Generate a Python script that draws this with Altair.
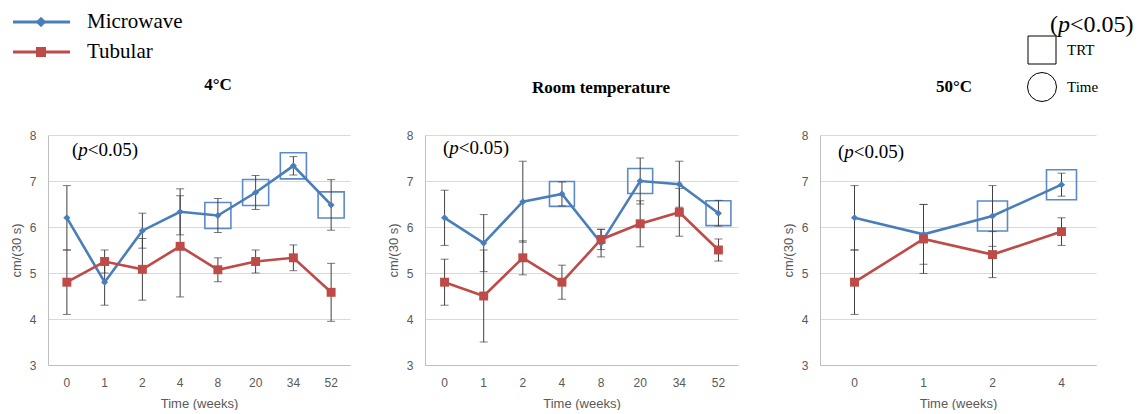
import altair as alt
import pandas as pd

# ---------------- data ----------------
weeks_long = ["0", "1", "2", "4", "8", "20", "34", "52"]
weeks_short = ["0", "1", "2", "4"]

# 4 °C
mw_4 = [6.20, 4.80, 5.92, 6.33, 6.25, 6.75, 7.33, 6.48]
mw_4_err = [0.70, 0.50, 0.38, 0.50, 0.37, 0.37, 0.20, 0.55]
tb_4 = [4.80, 5.25, 5.08, 5.58, 5.07, 5.25, 5.33, 4.58]
tb_4_err = [0.70, 0.25, 0.67, 1.10, 0.26, 0.25, 0.28, 0.63]
box_4 = ["8", "20", "34", "52"]

# Room temperature
mw_rt = [6.20, 5.65, 6.55, 6.72, 5.65, 7.00, 6.93, 6.30]
mw_rt_err = [0.60, 0.62, 0.88, 0.26, 0.30, 0.50, 0.50, 0.28]
tb_rt = [4.80, 4.50, 5.33, 4.80, 5.73, 6.07, 6.32, 5.50]
tb_rt_err = [0.50, 1.00, 0.37, 0.37, 0.22, 0.50, 0.52, 0.24]
box_rt = ["4", "20", "52"]

# 50 °C
mw_50 = [6.20, 5.84, 6.24, 6.92]
mw_50_err = [0.70, 0.65, 0.66, 0.25]
tb_50 = [4.80, 5.74, 5.40, 5.90]
tb_50_err = [0.70, 0.75, 0.50, 0.30]
box_50 = ["2", "4"]

series_names = ["Microwave", "Tubular"]
y_ticks = [3, 4, 5, 6, 7, 8]

# ---------------- style ----------------
BLUE = "#4A7EBB"
RED = "#BE4B48"
BOXBLUE = "#5B8BC6"
ERR = "#404040"
AXC = "#595959"
SERIF = "Liberation Serif"
SANS = "Liberation Sans"

one = pd.DataFrame({"k": [0]})


def make_df(weeks, mw, mw_err, tb, tb_err):
    rows = []
    for name, vals, errs in (("Microwave", mw, mw_err), ("Tubular", tb, tb_err)):
        for w, v, e in zip(weeks, vals, errs):
            rows.append({"week": w, "series": name, "value": v,
                         "lo": v - e, "hi": v + e})
    return pd.DataFrame(rows)


def ptext(x, y, size):
    """(p<0.05) with italic p, as three text pieces."""
    w_par = 0.333 * size
    w_p = 0.5 * size
    base = alt.Chart(one)
    a = base.mark_text(font=SERIF, fontSize=size, align="left", baseline="middle",
                       color="black").encode(x=alt.value(x), y=alt.value(y), text=alt.value("("))
    b = base.mark_text(font=SERIF, fontSize=size, fontStyle="italic", align="left",
                       baseline="middle", color="black").encode(
        x=alt.value(x + w_par), y=alt.value(y), text=alt.value("p"))
    c = base.mark_text(font=SERIF, fontSize=size, align="left", baseline="middle",
                       color="black").encode(
        x=alt.value(x + w_par + w_p), y=alt.value(y), text=alt.value("<0.05)"))
    return [a, b, c]


def panel(weeks, mw, mw_err, tb, tb_err, boxes, width, box_size, title,
          title_x, title_y, p_x, p_y, anchor_x, anchor_y, extra=()):
    df = make_df(weeks, mw, mw_err, tb, tb_err)
    bdf = df[(df.series == "Microwave") & (df.week.isin(boxes))]

    xenc = alt.X("week:O", sort=weeks, scale=alt.Scale(domain=weeks),
                 axis=alt.Axis(title="Time (weeks)", labelAngle=0))

    def yenc(field):
        return alt.Y(f"{field}:Q",
                     scale=alt.Scale(domain=[3, 8], nice=False, zero=False),
                     axis=alt.Axis(values=y_ticks, title="cm/(30 s)"))

    color = alt.Color("series:N", scale=alt.Scale(domain=series_names, range=[BLUE, RED]),
                      legend=None)
    base = alt.Chart(df)

    boxes_l = alt.Chart(bdf).mark_point(shape="square", filled=False, size=box_size,
                                        color=BOXBLUE, strokeWidth=1.6, opacity=1).encode(
        x=xenc, y=yenc("value"))
    lines = base.mark_line(strokeWidth=2.6).encode(x=xenc, y=yenc("value"), color=color,
                                                  detail="series:N")
    err = base.mark_rule(color=ERR, strokeWidth=1).encode(x=xenc, y=yenc("lo"), y2="hi:Q")
    cap_lo = base.mark_tick(color=ERR, thickness=1, size=8).encode(x=xenc, y=yenc("lo"))
    cap_hi = base.mark_tick(color=ERR, thickness=1, size=8).encode(x=xenc, y=yenc("hi"))
    pts = base.mark_point(filled=True, opacity=1).encode(
        x=xenc, y=yenc("value"), color=color,
        shape=alt.Shape("series:N", scale=alt.Scale(domain=series_names,
                                                    range=["diamond", "square"]), legend=None),
        size=alt.Size("series:N", scale=alt.Scale(domain=series_names, range=[50, 80]),
                      legend=None))

    ttl = alt.Chart(one).mark_text(font=SERIF, fontSize=17, fontWeight="bold",
                                   baseline="middle", align="center", color="black").encode(
        x=alt.value(title_x), y=alt.value(title_y), text=alt.value(title))
    anchor = alt.Chart(one).mark_rule(strokeOpacity=0, strokeWidth=0.1).encode(
        x=alt.value(anchor_x), x2=alt.value(anchor_x + 1), y=alt.value(anchor_y))

    layers = [anchor, boxes_l, lines, err, cap_lo, cap_hi, pts, ttl] + ptext(p_x, p_y, 19) + list(extra)
    return alt.layer(*layers).properties(width=width, height=230)


# top-left legend (drawn in panel 1 coordinates)
leg = []
for name, col, shp, sz, yy in (("Microwave", BLUE, "diamond", 110, -113),
                               ("Tubular", RED, "square", 100, -83)):
    leg.append(alt.Chart(one).mark_rule(color=col, strokeWidth=3).encode(
        x=alt.value(-35), x2=alt.value(22), y=alt.value(yy)))
    leg.append(alt.Chart(one).mark_point(shape=shp, filled=True, opacity=1, color=col,
                                         size=sz).encode(x=alt.value(-7), y=alt.value(yy)))
    leg.append(alt.Chart(one).mark_text(font=SERIF, fontSize=21, align="left",
                                        baseline="middle", color="black").encode(
        x=alt.value(39), y=alt.value(yy), text=alt.value(name)))

# top-right significance legend (panel 3 coordinates)
sig = ptext(230, -110, 24)
sig.append(alt.Chart(one).mark_point(shape="square", filled=False, size=784, color="black",
                                     strokeWidth=1, opacity=1).encode(
    x=alt.value(222), y=alt.value(-85)))
sig.append(alt.Chart(one).mark_point(shape="circle", filled=False, size=841, color="black",
                                     strokeWidth=1, opacity=1).encode(
    x=alt.value(222), y=alt.value(-48)))
for txt, yy in (("TRT", -85), ("Time", -48)):
    sig.append(alt.Chart(one).mark_text(font=SERIF, fontSize=15, align="left",
                                        baseline="middle", color="black").encode(
        x=alt.value(247), y=alt.value(yy), text=alt.value(txt)))

p1 = panel(weeks_long, mw_4, mw_4_err, tb_4, tb_4_err, box_4, 302, 680, "4°C",
           170, -50, 24, 15, -48, -135, extra=leg)
p2 = panel(weeks_long, mw_rt, mw_rt_err, tb_rt, tb_rt_err, box_rt, 313, 620,
           "Room temperature", 176, -47, 18, 13, -45, -135)
p3 = panel(weeks_short, mw_50, mw_50_err, tb_50, tb_50_err, box_50, 276, 900, "50°C",
           134, -48, 18, 17, -52, -135, extra=sig)

chart = alt.hconcat(p1, p2, p3, spacing=30).properties(
    padding=0, background="white"
).configure_view(strokeWidth=0).configure_axis(
    labelFont=SANS, labelFontSize=12, labelColor=AXC,
    titleFont=SANS, titleFontSize=13, titleColor=AXC, titleFontWeight="normal",
    domainColor="#BFBFBF", ticks=False, labelPadding=12,
).configure_axisY(
    gridColor="#D9D9D9", titlePadding=6,
).configure_axisX(
    grid=False, titlePadding=9,
)

chart.save("out.html", embed_options={"renderer": "svg", "actions": False})
